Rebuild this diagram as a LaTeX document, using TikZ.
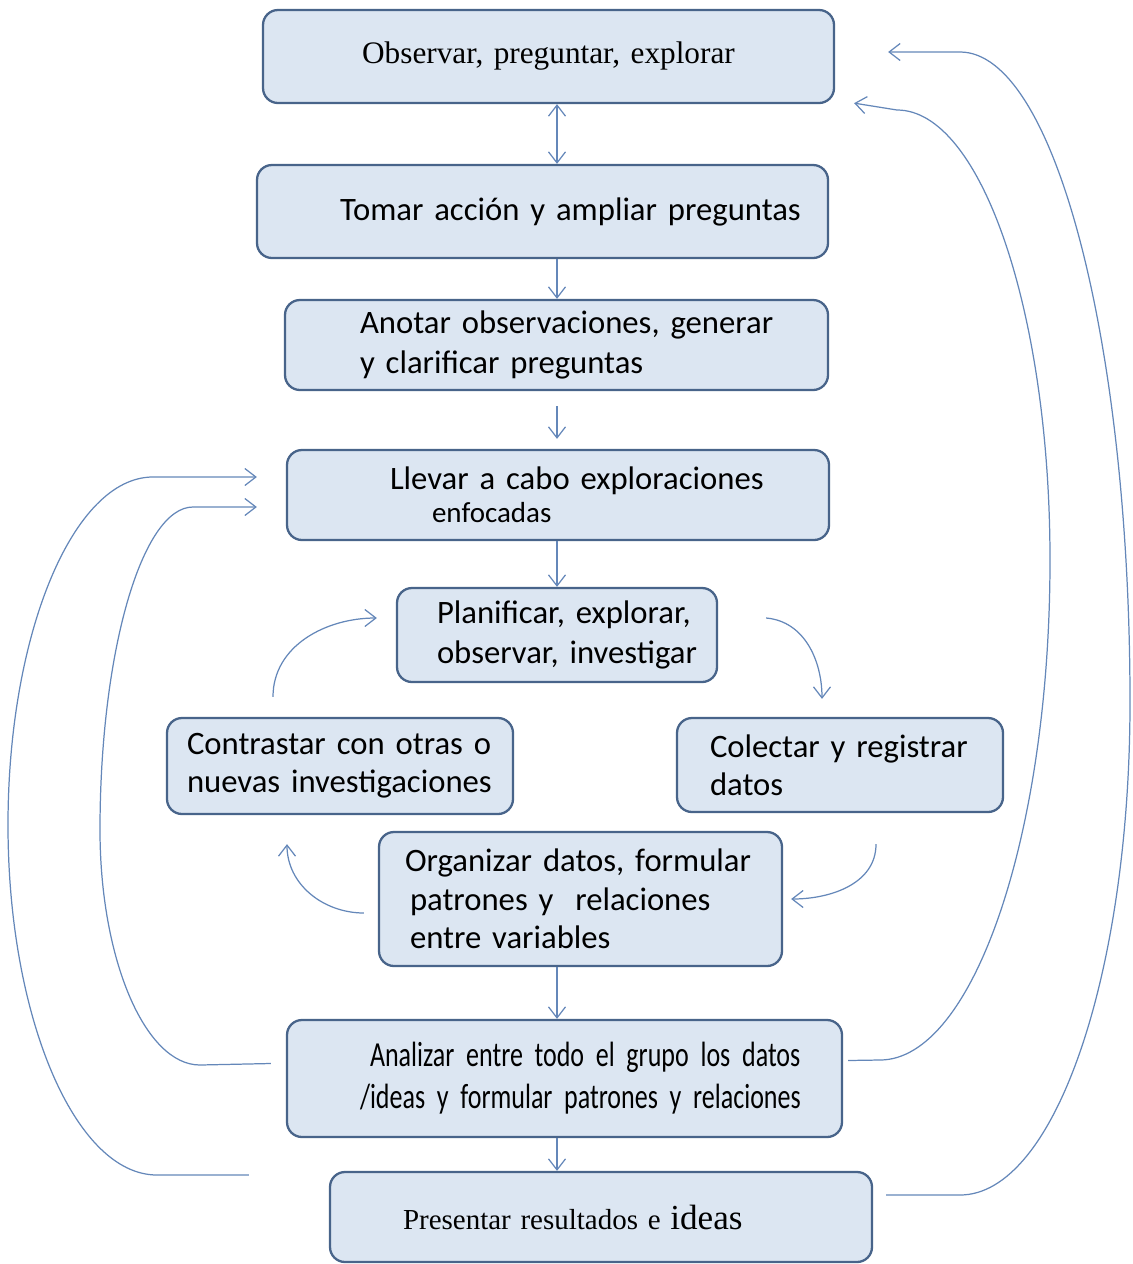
\documentclass[tikz,border=0pt]{standalone}
\usepackage{fontspec}
\setmainfont{Carlito}[WordSpace=0.85]
\newfontfamily\serifbox{Liberation Serif}
\newfontfamily\narrowbox[FakeStretch=0.74,WordSpace=0.7]{Carlito}
\usetikzlibrary{arrows.meta,calc}
\definecolor{boxfill}{RGB}{220,230,242}
\definecolor{boxline}{RGB}{72,100,138}
\definecolor{arrowcol}{RGB}{100,135,185}

\begin{document}
\begin{tikzpicture}[>={Straight Barb[length=2.2mm,width=3.4mm]},
                paso/.style={draw=boxline,line width=1.3pt,fill=boxfill,rounded corners=0.3cm,inner sep=0pt,align=left,font=\fontsize{18.6}{23}\selectfont},
                flecha/.style={->,draw=arrowcol,line width=0.7pt}]
                \useasboundingbox (0,0) rectangle (22.66,-25.28);
                \node[paso,minimum height=1.86cm,text width=11.42cm,align=center,font=\serifbox\fontsize{17.8}{21}\selectfont] (obs) at (10.97,-1.13) {Observar,\ preguntar,\ explorar};
                \node[paso,minimum height=1.86cm,text width=11.42cm] (tomar) at (10.85,-4.23) {\hspace*{1.66cm}Tomar acción y ampliar preguntas};
                \node[paso,minimum height=1.80cm,text width=10.86cm] (anotar) at (11.13,-6.90) {\hspace*{1.5cm}Anotar observaciones, generar\\\hspace*{1.5cm}y clarificar preguntas};
                \node[paso,minimum height=1.80cm,text width=10.84cm] (llevar) at (11.16,-9.90) {\hspace*{2.06cm}Llevar a cabo exploraciones\\[-4pt]\hspace*{2.9cm}{\fontsize{16.5}{19}\selectfont enfocadas}};
                \node[paso,minimum height=1.88cm,text width=6.40cm] (planif) at (11.14,-12.70) {\hspace*{0.8cm}Planificar, explorar,\\\hspace*{0.8cm}observar, investigar};
                \node[paso,minimum height=1.92cm,text width=6.92cm] (contrastar) at (6.80,-15.32) {\hspace*{0.4cm}Contrastar con otras o\\[-1.5pt]\hspace*{0.4cm}nuevas investigaciones};
                \node[paso,minimum height=1.88cm,text width=6.52cm] (colectar) at (16.80,-15.30) {\hspace*{0.66cm}Colectar y registrar\\[-1.5pt]\hspace*{0.66cm}datos};
                \node[paso,minimum height=2.68cm,text width=8.06cm] (organizar) at (11.61,-17.98) {\hspace*{0.52cm}Organizar datos, formular\\[-1pt]\hspace*{0.62cm}patrones y\ \ relaciones\\[-1pt]\hspace*{0.62cm}entre variables};
                \node[paso,minimum height=2.34cm,text width=11.10cm,font=\narrowbox\fontsize{20}{24}\selectfont] (analizar) at (11.29,-21.57) {\hspace*{1.66cm}Analizar entre todo el grupo los datos\\\hspace*{1.46cm}/ideas y formular patrones y relaciones};
                \node[paso,minimum height=1.80cm,text width=10.84cm,font=\serifbox\fontsize{16.5}{21}\selectfont] (presentar) at (12.02,-24.34) {\hspace*{1.46cm}Presentar resultados e {\fontsize{20}{21}\selectfont ideas}};
                % flechas verticales
                \draw[flecha,<->] (obs.south -| planif) -- (tomar.north -| planif);
                \draw[flecha] (tomar.south -| planif) -- (anotar.north -| planif);
                \draw[flecha,shorten <=0.3cm,shorten >=0.2cm] (anotar.south -| planif) -- (llevar.north -| planif);
                \draw[flecha] (llevar.south -| planif) -- (planif.north);
                \draw[flecha] (organizar.south -| planif) -- (analizar.north -| planif);
                \draw[flecha] (analizar.south -| planif) -- (presentar.north -| planif);
                % ciclo
                \draw[flecha] ($(planif.east)+(0.96,0.34)$) to[out=-5,in=90] ($(colectar.north)+(-0.36,0.36)$);
                \draw[flecha] ($(colectar.south)+(0.72,-0.62)$) to[out=-90,in=0] ($(organizar.east)+(0.16,0)$);
                \draw[flecha] ($(organizar.west)+(-0.28,-0.28)$) to[out=180,in=-90] ($(contrastar.south)+(-1.06,-0.58)$);
                \draw[flecha] ($(contrastar.north)+(-1.34,0.4)$) to[out=90,in=180] ($(planif.west)+(-0.38,0.34)$);
                % retornos
                \coordinate (li) at ($(analizar.west)+(-0.3,0.3)$);
                \coordinate (lo) at ($(presentar.west)+(-1.6,0.84)$);
                \coordinate (ri) at ($(analizar.east)+(0.1,0.36)$);
                \coordinate (ro) at ($(presentar.east)+(0.26,0.44)$);
                \draw[flecha] (li) -- (4.0,-21.3) .. controls (2.9,-21.3) and (2.0,-19.18) .. (2.0,-16.6) .. controls (2.0,-13.04) and (2.84,-10.14) .. (3.86,-10.14) -- ($(llevar.west)+(-0.58,-0.24)$);
                \draw[flecha] (lo) -- (3.14,-23.5) .. controls (1.5,-23.5) and (0.16,-20.34) .. (0.16,-16.5) .. controls (0.16,-12.68) and (1.46,-9.54) .. (3.06,-9.54) -- ($(llevar.west)+(-0.58,0.36)$);
                \draw[flecha] (ri) -- (17.6,-21.2) .. controls (19.46,-21.2) and (21.0,-16.7) .. (21.0,-11.2) .. controls (21.0,-6.24) and (19.62,-2.2) .. (17.94,-2.2) -- ($(obs.south east)+(0.38,0.02)$);
                \draw[flecha] (ro) -- (19.2,-23.9) .. controls (21.1,-23.9) and (22.6,-19.46) .. (22.6,-14.04) .. controls (22.6,-6.9) and (21.1,-1.04) .. (19.2,-1.04) -- ($(obs.east)+(1.06,0.09)$);
\end{tikzpicture}
\end{document}
